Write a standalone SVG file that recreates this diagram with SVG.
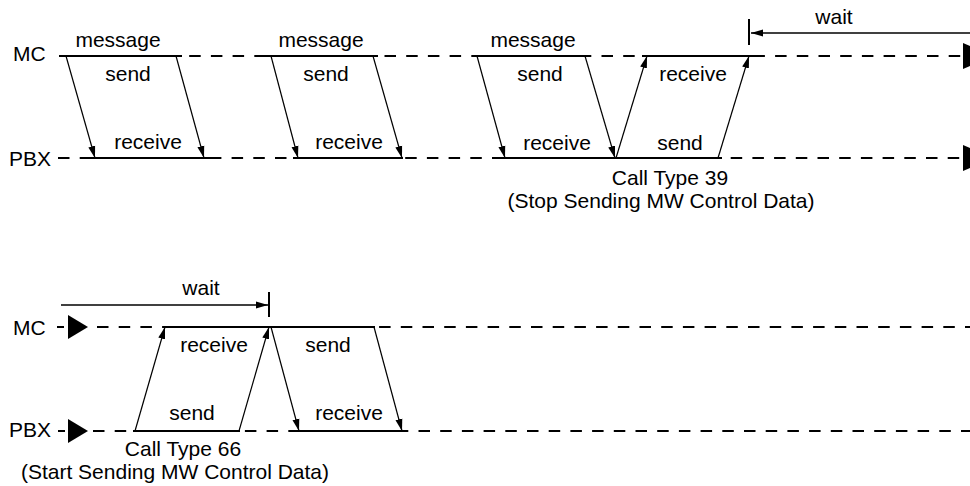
<svg xmlns="http://www.w3.org/2000/svg" width="970" height="486" viewBox="0 0 970 486">
<defs>
<style>
text{font-family:"Liberation Sans",Arial,sans-serif;font-size:21px;fill:#000}
.m{text-anchor:middle}
.dash{stroke:#000;stroke-width:2;stroke-dasharray:11.5 10.2;fill:none}
.solid{stroke:#000;stroke-width:2;fill:none}
.arr{stroke:#000;stroke-width:1.2;fill:none;marker-end:url(#ah)}
.warr{stroke:#000;stroke-width:1.7;fill:none;marker-end:url(#ah)}
.tick{stroke:#000;stroke-width:2}
.tri{fill:#000}
</style>
<marker id="ah" markerUnits="userSpaceOnUse" markerWidth="12" markerHeight="8" refX="12" refY="4" orient="auto">
<path d="M0,0.5 L12,4 L0,7.5 z" fill="#000"/>
</marker>
</defs>
<rect width="970" height="486" fill="#fff"/>

<g id="lifeline-mc-top">
<text x="13" y="61">MC</text>
<line class="dash" x1="59" y1="56" x2="963" y2="56"/>
<line class="solid" x1="59" y1="56" x2="182" y2="56"/>
<line class="solid" x1="265" y1="56" x2="378" y2="56"/>
<line class="solid" x1="473" y1="56" x2="590" y2="56"/>
<line class="solid" x1="642" y1="56" x2="755" y2="56"/>
<polygon class="tri" points="963,43 993,56 963,69"/>
</g>
<g id="lifeline-pbx-top">
<text x="9" y="166">PBX</text>
<line class="dash" x1="58" y1="158" x2="963" y2="158"/>
<line class="solid" x1="83" y1="158" x2="210" y2="158"/>
<line class="solid" x1="293" y1="158" x2="403" y2="158"/>
<line class="solid" x1="499" y1="158" x2="722" y2="158"/>
<polygon class="tri" points="963,145 993,158 963,171"/>
</g>

<g id="lifeline-mc-bottom">
<text x="13" y="335">MC</text>
<line class="solid" x1="57" y1="327" x2="64" y2="327"/>
<polygon class="tri" points="68,315 88,327 68,339"/>
<line class="dash" x1="97" y1="327" x2="970" y2="327"/>
<line class="solid" x1="163" y1="327" x2="375" y2="327"/>
</g>
<g id="lifeline-pbx-bottom">
<text x="9" y="437">PBX</text>
<line class="solid" x1="58" y1="431" x2="65" y2="431"/>
<polygon class="tri" points="68,419 88,431 68,443"/>
<line class="dash" x1="93" y1="431" x2="970" y2="431"/>
<line class="solid" x1="133" y1="431" x2="240" y2="431"/>
<line class="solid" x1="295" y1="431" x2="408" y2="431"/>
</g>

<g id="connectors">
<line class="arr" x1="66" y1="56" x2="95" y2="158"/>
<line class="arr" x1="176" y1="56" x2="204" y2="158"/>
<line class="arr" x1="271" y1="56" x2="298" y2="158"/>
<line class="arr" x1="373" y1="56" x2="402" y2="158"/>
<line class="arr" x1="477" y1="56" x2="505" y2="158"/>
<line class="arr" x1="585" y1="56" x2="615" y2="158"/>
<line class="arr" x1="616" y1="158" x2="647" y2="56"/>
<line class="arr" x1="718" y1="158" x2="749" y2="56"/>
<line class="warr" x1="970" y1="33" x2="751" y2="33"/>
<line class="tick" x1="749" y1="19" x2="749" y2="45"/>

<line class="arr" x1="135" y1="431" x2="165" y2="327"/>
<line class="arr" x1="239" y1="431" x2="269" y2="327"/>
<line class="arr" x1="271" y1="327" x2="299" y2="431"/>
<line class="arr" x1="374" y1="327" x2="402" y2="431"/>
<line class="warr" x1="61" y1="305" x2="268" y2="305"/>
<line class="tick" x1="269" y1="292" x2="269" y2="317"/>
</g>

<g id="labels-top">
<text class="m" x="118" y="47">message</text>
<text class="m" x="128" y="81">send</text>
<text class="m" x="148" y="149">receive</text>
<text class="m" x="321" y="47">message</text>
<text class="m" x="326" y="81">send</text>
<text class="m" x="349" y="149">receive</text>
<text class="m" x="533" y="47">message</text>
<text class="m" x="540" y="81">send</text>
<text class="m" x="693" y="81">receive</text>
<text class="m" x="557" y="150">receive</text>
<text class="m" x="680" y="150">send</text>
<text class="m" x="834" y="24">wait</text>
<text class="m" x="670" y="185">Call Type 39</text>
<text class="m" x="661" y="208">(Stop Sending MW Control Data)</text>
</g>
<g id="labels-bottom">
<text class="m" x="201" y="295">wait</text>
<text class="m" x="214" y="352">receive</text>
<text class="m" x="328" y="352">send</text>
<text class="m" x="192" y="420">send</text>
<text class="m" x="349" y="420">receive</text>
<text class="m" x="183" y="456">Call Type 66</text>
<text class="m" x="175" y="479">(Start Sending MW Control Data)</text>
</g>
</svg>
